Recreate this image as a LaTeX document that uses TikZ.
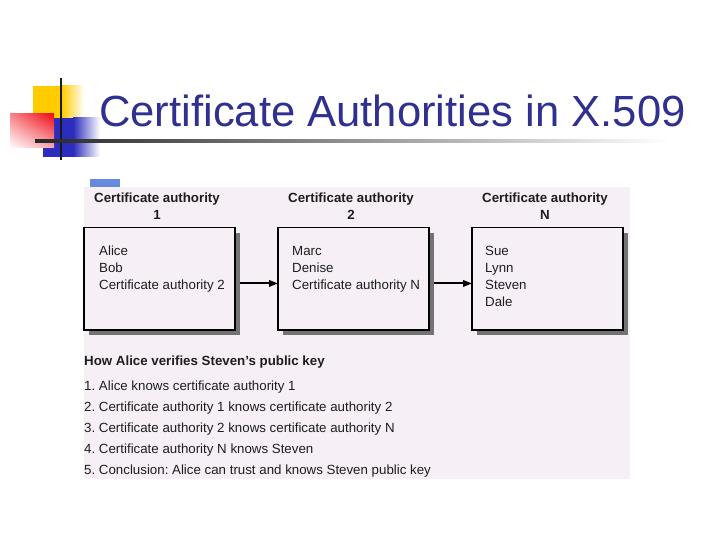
\documentclass[tikz,border=0pt]{standalone}
\usepackage{fontspec}
\setmainfont{Liberation Sans}
\usetikzlibrary{shadows,shadings,arrows.meta}
\definecolor{bgc}{RGB}{246,240,246}
\definecolor{titlec}{RGB}{48,48,145}
\definecolor{barc}{RGB}{102,136,221}
\definecolor{logoy}{RGB}{255,204,0}
\definecolor{logob}{RGB}{44,44,190}
\definecolor{logor}{RGB}{240,10,20}
\definecolor{txtc}{RGB}{30,30,30}
\frenchspacing
\tikzset{
  txt/.style={inner sep=0pt, text=txtc, font=\fontsize{13.3}{16}\selectfont},
  hdr/.style={inner sep=0pt, text=txtc, font=\fontsize{13.3}{16}\selectfont\bfseries},
  cabox/.style={draw=black, line width=1.3pt, fill=bgc, minimum width=151pt,
    minimum height=102.3pt, inner sep=0pt, outer sep=0pt,
    drop shadow={shadow xshift=5pt, shadow yshift=-5pt, fill=black!55, opacity=1}},
  arr/.style={line width=2pt, draw=black, -{Triangle[length=9pt,width=6.5pt]}}
}
\begin{document}
\begin{tikzpicture}[x=1pt,y=-1pt]
\useasboundingbox (0,0) rectangle (720,540);
\fill[white] (0,0) rectangle (720,540);
% logo
\fill[logoy] (33,86) rectangle (62,118);
\shade[left color=logoy, right color=white] (62,86) rectangle (84,118);
\fill[logob] (43,118) rectangle (73,157);
\shade[left color=logob, right color=white] (73,118) rectangle (100,157);
\shade[upper right=logor, upper left=logor!50!white, lower right=logor!35!white, lower left=white] (10,114) rectangle (54,148);
\draw[line width=2.5pt, black!90] (61,78) -- (61,160);
\shade[left color=black!85, right color=white] (35,140) rectangle (670,142.2);
% title
\node[anchor=base west, inner sep=0pt, text=titlec, font=\fontsize{43.6}{50}\selectfont] (title) at (99,127) {Certificate Authorities in X.509};
% figure background
\fill[barc] (90,179) rectangle (120,187);
\fill[bgc] (84,187) rectangle (630,479);
% headers
\foreach \x/\n/\k in {157/1/a,351/2/b,545/N/c} {
  \node[hdr, anchor=base] (h\k1) at (\x,202.7) {Certificate authority};
  \node[hdr, anchor=base] (h\k2) at (\x,219) {\n};
}
% boxes
\node[cabox] (box1) at (159.5,278.85) {};
\node[cabox] (box2) at (353.5,278.85) {};
\node[cabox] (box3) at (547.5,278.85) {};
\foreach \t [count=\i] in {Alice,Bob,Certificate authority 2}
  \node[txt, anchor=base west] (a\i) at (99,{255.3+17*(\i-1)}) {\t};
\foreach \t [count=\i] in {Marc,Denise,Certificate authority N}
  \node[txt, anchor=base west] (b\i) at (292,{255.3+17*(\i-1)}) {\t};
\foreach \t [count=\i] in {Sue,Lynn,Steven,Dale}
  \node[txt, anchor=base west] (c\i) at (485,{255.3+17*(\i-1)}) {\t};
% arrows
\draw[arr] ([xshift=5pt,yshift=-4.6pt]box1.east) -- ([yshift=-4.6pt]box2.west);
\draw[arr] ([xshift=5pt,yshift=-4.6pt]box2.east) -- ([yshift=-4.6pt]box3.west);
% list
\node[hdr, anchor=base west] (lh) at (84,365) {How Alice verifies Steven's public key};
\foreach \t [count=\i] in {1. Alice knows certificate authority 1,
  2. Certificate authority 1 knows certificate authority 2,
  3. Certificate authority 2 knows certificate authority N,
  4. Certificate authority N knows Steven,
  5. Conclusion: Alice can trust and knows Steven public key}
  \node[txt, anchor=base west] (li\i) at (84,{390+21*(\i-1)}) {\t};
\end{tikzpicture}
\end{document}
